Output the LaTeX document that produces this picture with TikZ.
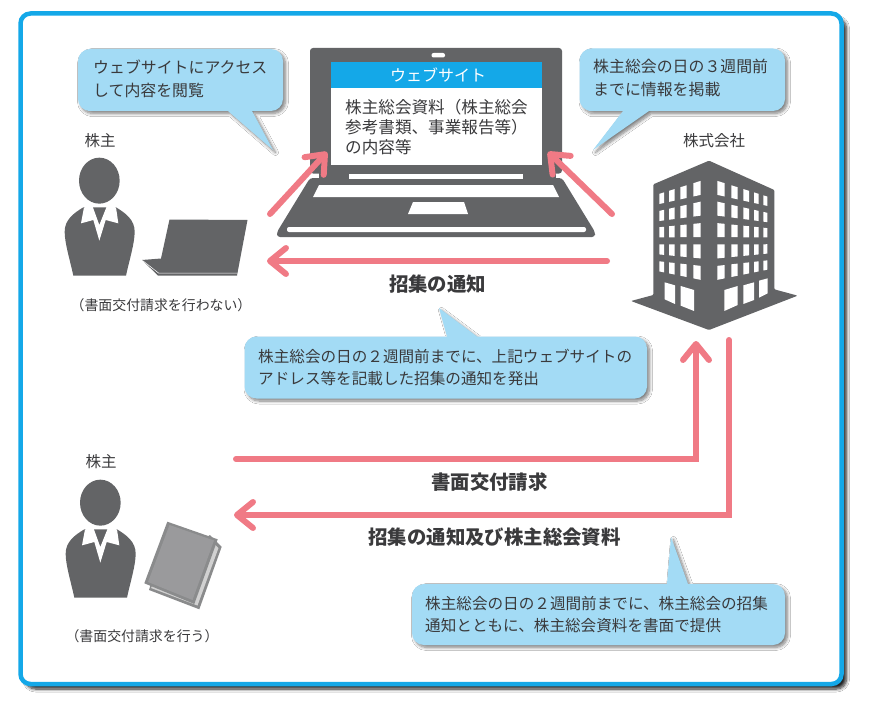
\documentclass[tikz,border=0pt]{standalone}
\usepackage{fontspec}
\setmainfont{Noto Sans CJK JP}
\usetikzlibrary{arrows.meta,shadows.blur}

\definecolor{framblue}{HTML}{14A8E8}
\definecolor{tipblue}{HTML}{A3DBF5}
\definecolor{icongray}{HTML}{636466}
\definecolor{arrowpink}{HTML}{F07A85}
\definecolor{inkgray}{HTML}{3A3A3C}

\tikzset{
 softshadow/.style={blur shadow={shadow xshift=2.5pt,shadow yshift=-2.5pt,shadow blur radius=3pt,shadow blur steps=8,shadow opacity=50}},
 frameshadow/.style={blur shadow={shadow xshift=5pt,shadow yshift=-5pt,shadow blur radius=3pt,shadow blur steps=8,shadow opacity=85}},
 tipbox/.style={fill=tipblue,softshadow},
 tiptext/.style={inner sep=0pt,anchor=west,align=left,text=inkgray,font=\fontsize{15.6}{22}\selectfont},
 tiptextb/.style={tiptext,font=\fontsize{15.9}{22.5}\selectfont},
 headtext/.style={inner sep=0pt,text=inkgray,font=\fontsize{19.4}{22}\selectfont\bfseries},
 nametext/.style={inner sep=0pt,text=inkgray,font=\fontsize{15.5}{18}\selectfont},
 notetext/.style={inner sep=0pt,text=inkgray,font=\fontsize{13.9}{15}\selectfont},
 pinkarrow/.style={draw=arrowpink,line width=6pt,line cap=round,line join=miter,-{Straight Barb[length=16pt,width=26pt,round]}},
 person/.pic={
  \begin{scope}[shift={(-59,-51)},scale=1/3]
   \fill[icongray] (178,152) ellipse (61 and 69); %head
   \fill[icongray] (100,437) .. controls (90,390) and (74,340) .. (74,305) .. controls (74,270) and (100,250) .. (130,232) -- (228,232) .. controls (258,250) and (284,270) .. (284,305) .. controls (284,340) and (268,390) .. (258,437) -- cycle; %body
   \fill[white] (132,232) -- (123,280) -- (160,270) -- (178,332) -- (197,270) -- (235,280) -- (228,232) -- (200,230) -- (178,285) -- (158,230) -- cycle; %collar
  \end{scope}
 }
}

\newcommand{\buildingwin}[2]{% side (1 or -1), list of columns
 \foreach \m/\c in {.267/167,.177/231.5,.053/299,-.05/365.5,-.157/432.5}{
  \foreach \a/\b in {#2}{
   \fill[white] ({267+#1*\a},{\c+\m*\a-(44.3-.093*\a)/2}) -- ({267+#1*\b},{\c+\m*\b-(44.3-.093*\b)/2}) -- ({267+#1*\b},{\c+\m*\b+(44.3-.093*\b)/2}) -- ({267+#1*\a},{\c+\m*\a+(44.3-.093*\a)/2}) -- cycle;
  }
 }
}

\begin{document}
\begin{tikzpicture}[x=1pt,y=-1pt]
 \useasboundingbox (0,0) rectangle (871,709);
 \fill[white] (0,0) rectangle (871,709);
 \path[draw=framblue,fill=white,line width=4.5pt,rounded corners=10pt,frameshadow] (20.5,13.5) rectangle (841.5,684); %outer frame

 %callouts
 \path[tipbox] (228,111) [sharp corners] -- (273,150) -- (252,111) [rounded corners=12pt] -- (283,111) -- (283,49) -- (78,49) -- (78,111) -- (100,111) [sharp corners] -- cycle;
 \path[tipbox] (623,111) [sharp corners] -- (593,150) -- (649,111) [rounded corners=12pt] -- (785,111) -- (785,48.5) -- (579.5,48.5) -- (579.5,111) -- (600,111) [sharp corners] -- cycle;
 \path[tipbox] (447,336.5) [sharp corners] -- (439,308) -- (477,336.5) [rounded corners=12pt] -- (647,336.5) -- (647,398.5) -- (244.5,398.5) -- (244.5,336.5) -- (270,336.5) [sharp corners] -- cycle;
 \path[tipbox] (667,584) [sharp corners] -- (671,537) -- (688,584) [rounded corners=12pt] -- (785,584) -- (785,645) -- (412,645) -- (412,584) -- (440,584) [sharp corners] -- cycle;
 \node[tiptextb] (tipaccess) at (93,79) {ウェブサイトにアクセス\\して内容を閲覧};
 \node[tiptextb] (tippost) at (593,78) {株主総会の日の３週間前\\までに情報を掲載};
 \node[tiptext] (tipnotice) at (258,367) {株主総会の日の２週間前までに、上記ウェブサイトの\\アドレス等を記載した招集の通知を発出};
 \node[tiptext] (tipsend) at (425,614.5) {株主総会の日の２週間前までに、株主総会の招集\\通知とともに、株主総会資料を書面で提供};

 %large laptop
 \fill[icongray,rounded corners=3pt] (310,48) rectangle (562,173.5);
 \fill[icongray,rounded corners=3pt] (310,178) -- (562,178) -- (595,232) -- (595,237) -- (277,237) -- (277,232) -- cycle;
 \fill[icongray] (319,170) rectangle (556,180);
 \fill[white] (349,174) rectangle (523,179);
 \fill[white,rounded corners=2pt] (431.5,53) rectangle (445,57.5);
 \fill[white] (331,62) rectangle (542,164.5);
 \fill[framblue] (331,62) rectangle (542,88);
 \fill[white] (319,185) -- (553,185) -- (559,197) -- (313,197) -- cycle;
 \fill[white] (413,202) -- (464,202) -- (468,214) -- (408,214) -- cycle;
 \fill[white,rounded corners=2pt] (287,227) rectangle (586,232);
 \node[inner sep=0pt,text=white,font=\fontsize{16}{18}\selectfont] (sitetitle) at (438,75) {ウェブサイト};
 \node[inner sep=0pt,anchor=west,align=left,text=inkgray,font=\fontsize{16.6}{20}\selectfont] (sitebody) at (345,127.5) {株主総会資料（株主総会\\参考書類、事業報告等）\\の内容等};

 %people
 \node[nametext] (holdera) at (100,141) {株主};
 \pic (persona) at (99,181) {person};
 \node[notetext] (notea) at (161,305) {（書面交付請求を行わない）};
 \node[nametext] (holderb) at (101,462) {株主};
 \pic (personb) at (100,503) {person};
 \node[notetext] (noteb) at (142,636) {（書面交付請求を行う）};

 %small laptop
 \fill[icongray] (169.5,219.5) -- (247.5,220) -- (237,275.5) -- (158,275.5) -- (142,260) -- (161,258.5) -- cycle;
 \draw[white,line width=.5pt] (142.5,260.5) -- (158.5,273) -- (237,273);

 %document
 \fill[icongray!75] (221.7,546.7) -- (199.3,609.3) -- (149,590) -- (155,570) -- (210,535) -- cycle;
 \fill[white!82!black] (218.5,548) -- (197.5,605.5) -- (151,588) -- (160,570) -- (210,540) -- cycle;
 \fill[icongray!75] (167.3,521.7) -- (217.7,539.3) -- (194.3,604) -- (144.3,583.3) -- cycle;
 \fill[icongray!65] (169.5,525) -- (214,540.5) -- (192.5,600) -- (148,582) -- cycle;

 %company
 \node[nametext] (company) at (714,141) {株式会社};
 \begin{scope}[shift={(620,130)},scale=1/3]
  \fill[icongray,rounded corners=1pt] (267,92) -- (463,180) -- (463,478) -- (533,497) -- (267,600) -- (33,513) -- (100,495) -- (100,163) -- cycle;
  \buildingwin{1}{25/47,67/86,103/120,135/149,163/175}
  \buildingwin{-1}{25/47,67/86,103/120,135/149}
  \foreach \p/\q/\r/\s/\t/\u in {134/165/457/466/508/522,182/222/468/480/527/543,313/353/480/468/543/525,370/402/466/457/522/510,417/443/452/445/503/490}
   \fill[white] (\p,\r) -- (\q,\s) -- (\q,\u) -- (\p,\t) -- cycle;
 \end{scope}

 %arrows
 \coordinate (la) at (270,214);
 \coordinate (lb) at (327,152);
 \coordinate (ra) at (612,214);
 \coordinate (rb) at (548,152);
 \coordinate (na) at (607,261);
 \coordinate (nb) at (267,261);
 \coordinate (qa) at (236,459);
 \coordinate (qb) at (696,459);
 \coordinate (qc) at (696,341);
 \coordinate (sa) at (729,340);
 \coordinate (sb) at (729,515);
 \coordinate (sc) at (234,515);
 \draw[pinkarrow] (la)--(lb);
 \draw[pinkarrow] (ra)--(rb);
 \draw[pinkarrow] (na)--(nb);
 \draw[pinkarrow] (qa)--(qb)--(qc);
 \draw[pinkarrow] (sa)--(sb)--(sc);

 \node[headtext] (headnotice) at (437.5,284) {招集の通知};
 \node[headtext] (headask) at (489.5,482) {書面交付請求};
 \node[headtext] (headsend) at (494.5,537) {招集の通知及び株主総会資料};
\end{tikzpicture}
\end{document}
